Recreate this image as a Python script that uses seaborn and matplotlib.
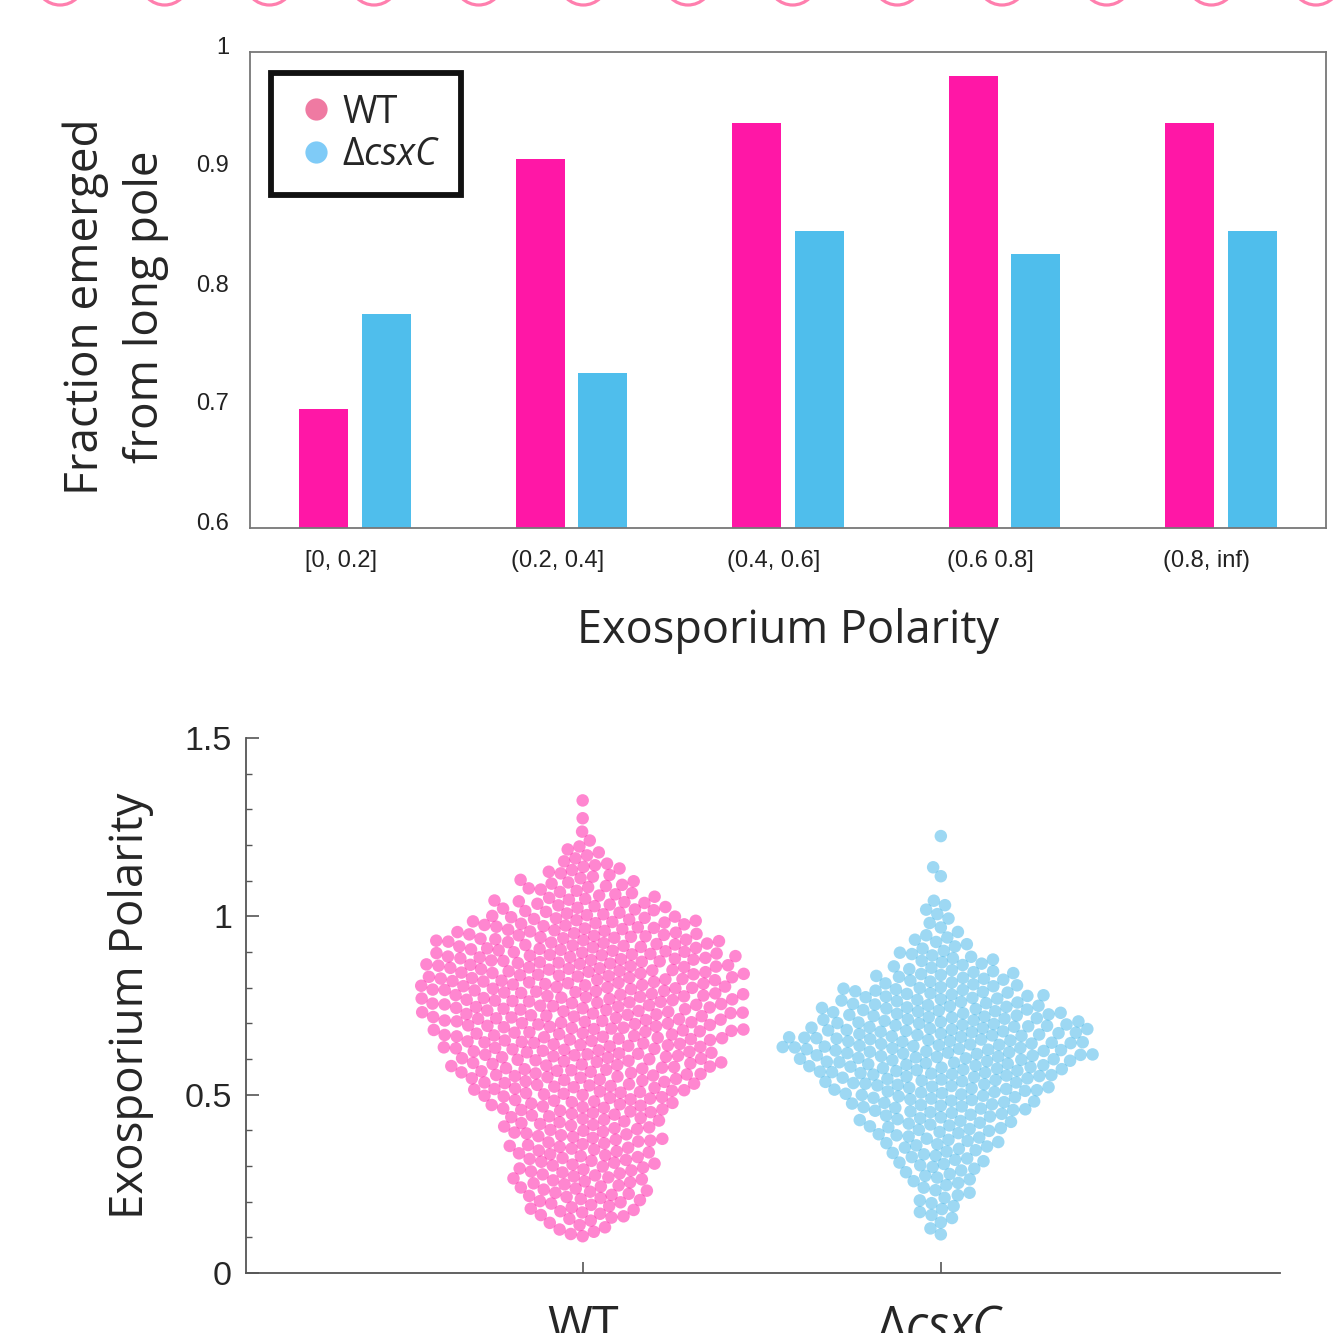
import numpy as np
import pandas as pd
import matplotlib
matplotlib.use("Agg")
import matplotlib.pyplot as plt
import matplotlib.transforms as mtransforms
from matplotlib.lines import Line2D
from matplotlib.patches import Circle
import seaborn as sns
from seaborn.categorical import Beeswarm

# ---------------- data ----------------
polarity_bins = ["[0, 0.2]", "(0.2, 0.4]", "(0.4, 0.6]", "(0.6 0.8]", "(0.8, inf)"]
frac_wt = [0.70, 0.91, 0.94, 0.98, 0.94]
frac_csxc = [0.78, 0.73, 0.85, 0.83, 0.85]

strains = ["WT", "ΔcsxC"]

# per-cell exosporium polarity, tallied in 0.05-wide bins starting at 0.10
bin_start = 0.10
bin_step = 0.05
counts_wt = [8, 14, 17, 18, 19, 20, 21, 25, 30, 34, 36, 39, 41, 42, 42, 41,
             37, 30, 22, 15, 11, 6, 2, 1, 1]
counts_csxc = [3, 6, 7, 10, 13, 16, 20, 25, 30, 36, 41, 39, 33, 27, 19, 13,
               8, 4, 4, 0, 2, 0, 1]

# ---------------- style ----------------
pink_bar = "#FF17A6"
blue_bar = "#4FBEEC"
pink_pt = "#FF2FAE"
blue_pt = "#56BDEB"

sns.set_style("white")
plt.rcParams["font.family"] = ["Liberation Sans", "DejaVu Sans"]
plt.rcParams["mathtext.fontset"] = "custom"
plt.rcParams["mathtext.rm"] = "Open Sans"
plt.rcParams["mathtext.it"] = "Open Sans:italic"
label_font = ["Open Sans", "DejaVu Sans"]

W, H = 1337, 1333
fig = plt.figure(figsize=(W / 100, H / 100), dpi=100)

# decorative ring row along the top edge
for cx in np.linspace(60, 1316, 13):
    fig.add_artist(Circle((cx, H + 19), radius=24, fill=False, lw=2.3,
                          edgecolor="#FF7FAE", transform=mtransforms.IdentityTransform()))

# ---------------- top: bar chart ----------------
ax1 = fig.add_axes([250 / W, 1 - 528 / H, (1326 - 250) / W, (528 - 52) / H])
bar_df = pd.DataFrame({
    "bin": polarity_bins * 2,
    "frac": frac_wt + frac_csxc,
    "strain": ["WT"] * len(frac_wt) + ["ΔcsxC"] * len(frac_csxc),
})
sns.barplot(data=bar_df, x="bin", y="frac", hue="strain", order=polarity_bins,
            hue_order=strains, palette=[pink_bar, blue_bar], width=0.573, gap=0.21,
            saturation=1, ax=ax1, legend=False, edgecolor="none")
ax1.set_ylim(0.6, 1.0)
ax1.set_xlim(-0.485, 4.485)
ax1.set_yticks([0.6, 0.7, 0.8, 0.9, 1.0])
ax1.set_yticklabels(["0.6", "0.7", "0.8", "0.9", "1"])
ax1.tick_params(axis="both", length=0, labelsize=17, labelcolor="#222222")
ax1.tick_params(axis="y", pad=15)
ax1.tick_params(axis="x", pad=16)
for lab in ax1.get_yticklabels():
    lab.set_transform(lab.get_transform() + mtransforms.ScaledTranslation(0, 0.07, fig.dpi_scale_trans))
for lab in ax1.get_xticklabels():
    lab.set_transform(lab.get_transform() + mtransforms.ScaledTranslation(-0.14, 0, fig.dpi_scale_trans))
for sp in ax1.spines.values():
    sp.set_visible(True)
    sp.set_color("#777777")
    sp.set_linewidth(1.3)
ax1.set_xlabel("Exosporium Polarity", fontsize=32.5, family=label_font, labelpad=26)
ax1.set_ylabel("Fraction emerged\nfrom long pole", fontsize=33, family=label_font,
               labelpad=20, linespacing=1.38)
ax1.yaxis.label.set_y(0.464)

handles = [Line2D([], [], ls="none", marker="o", markersize=16, color="#EF7AA2",
                  markeredgewidth=0),
           Line2D([], [], ls="none", marker="o", markersize=16, color="#7FCBF7",
                  markeredgewidth=0)]
leg = ax1.legend(handles, ["WT", "Δ$\\mathit{csxC}$"], loc="upper left",
                 bbox_to_anchor=(0.0195, 0.956), prop={"family": label_font, "size": 27},
                 frameon=True, fancybox=False, framealpha=1, borderpad=0.55,
                 handletextpad=0.05, handlelength=1.3, labelspacing=0.12, borderaxespad=0)
leg.get_frame().set_edgecolor("#111111")
leg.get_frame().set_linewidth(4.2)

# ---------------- bottom: swarm ----------------
ax2 = fig.add_axes([246 / W, 1 - 1273 / H, (1280 - 246) / W, (1273 - 738) / H])


def expand(counts):
    vals = []
    for i, n in enumerate(counts):
        lo = bin_start + i * bin_step
        vals.extend(lo + (np.arange(n) + 0.5) / n * bin_step if n else [])
    return vals


pol_wt = expand(counts_wt)
pol_csxc = expand(counts_csxc)
sw_df = pd.DataFrame({
    "strain": ["WT"] * len(pol_wt) + ["ΔcsxC"] * len(pol_csxc),
    "polarity": pol_wt + pol_csxc,
})
sns.swarmplot(data=sw_df, x="strain", y="polarity", hue="strain", order=strains,
              hue_order=strains, palette=[pink_pt, blue_pt], size=8.3, alpha=0.58,
              linewidth=0, ax=ax2, legend=False)
ax2.set_xlim(-0.94, 1.947)
ax2.set_ylim(0, 1.5)
ax2.set_yticks([0, 0.5, 1, 1.5])
ax2.set_yticklabels(["0", "0.5", "1", "1.5"])
ax2.set_yticks(np.arange(0, 1.5, 0.1), minor=True)
ax2.set_xticks([0, 1])
ax2.set_xticklabels(["WT", "Δ$\\mathit{csxC}$"], family=label_font, fontsize=35)
ax2.tick_params(axis="y", which="major", direction="in", length=9, width=1.2,
                labelsize=24.5, pad=10, color="#555555", left=True)
ax2.tick_params(axis="y", which="minor", direction="in", length=4, width=1.0,
                color="#555555", left=True)
ax2.tick_params(axis="x", direction="in", length=8, width=1.2, pad=22,
                color="#555555", bottom=True)
for side in ["top", "right"]:
    ax2.spines[side].set_visible(False)
for side in ["left", "bottom"]:
    ax2.spines[side].set_color("#555555")
    ax2.spines[side].set_linewidth(1.3)
ax2.set_xlabel("")
ax2.set_ylabel("Exosporium Polarity", fontsize=32.8, family=label_font, labelpad=22)

# lay the swarms out with a wider gutter, then enlarge the dots slightly so
# neighbouring dots overlap
swarm = Beeswarm(orient="x", width=0.98, warn_thresh=1.0)
for coll in ax2.collections:
    offs = coll.get_offsets()
    if len(offs) < 2:
        continue
    center = float(np.round(np.median(offs[:, 0])))
    swarm(coll, center)
    if "draw" in coll.__dict__:
        del coll.draw
    coll.set_sizes(np.full(len(coll.get_offsets()), 9.0 ** 2))

fig.savefig("out.png", dpi=100)
